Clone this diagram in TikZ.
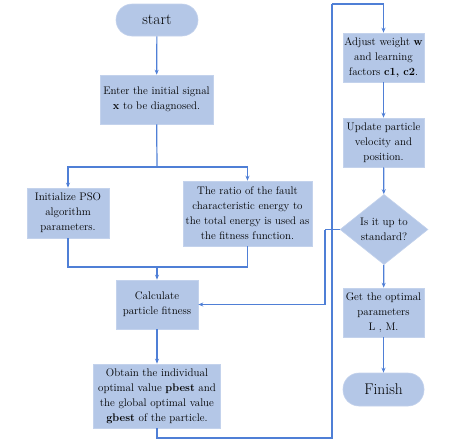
\documentclass[tikz,border=0pt]{standalone}
\usetikzlibrary{shapes.geometric,arrows.meta}
\definecolor{boxfill}{HTML}{B4C7E7}
\definecolor{boxline}{HTML}{C3D2EC}
\definecolor{flow}{HTML}{4F7FD6}
\tikzset{
  box/.style={rectangle, fill=boxfill, draw=boxline, line width=0.6pt, align=center, inner sep=0pt,
    font=\fontsize{11}{15}\selectfont},
  term/.style={rectangle, rounded corners=16pt, fill=boxfill, draw=boxline, line width=0.6pt, inner sep=0pt,
    font=\fontsize{15.5}{19}\selectfont},
  decide/.style={diamond, fill=boxfill, draw=boxline, line width=0.6pt, inner sep=0pt, align=center,
    font=\fontsize{11}{15}\selectfont},
  conn/.style={draw=flow, line width=1.2pt},
  arr/.style={conn, -{Stealth[length=5pt,width=4pt]}}
}
\begin{document}
\begin{tikzpicture}[x=1pt,y=-1pt]
\useasboundingbox (0,0) rectangle (464,445);
% left column
\node[term, minimum width=82pt, minimum height=32pt] (start) at (157,20) {start};
\node[box, minimum width=113pt, minimum height=49pt] (enter) at (156.5,99.5) {Enter the initial signal\\\textbf{x} to be diagnosed.};
\node[box, minimum width=82pt, minimum height=50pt] (init) at (68,213) {Initialize PSO\\algorithm\\parameters.};
\node[box, minimum width=129pt, minimum height=65pt] (ratio) at (247.5,213.5) {The ratio of the fault\\characteristic energy to\\the total energy is used as\\the fitness function.};
\node[box, minimum width=82pt, minimum height=49pt] (calc) at (157,304.5) {Calculate\\particle fitness};
\node[box, minimum width=127pt, minimum height=64pt] (obtain) at (157,396) {Obtain the individual\\optimal value \textbf{pbest} and\\the global optimal value\\\textbf{gbest} of the particle.};
% right column
\node[box, minimum width=81pt, minimum height=49pt] (adjust) at (383.5,57.5) {Adjust weight \textbf{w}\\and learning\\factors \textbf{c1, c2}.};
\node[box, minimum width=81pt, minimum height=49pt] (update) at (383.5,142.5) {Update particle\\velocity and\\position.};
\node[decide, minimum width=88pt, minimum height=53pt] (dec) at (384,229.5) {Is it up to\\standard?};
\node[box, minimum width=81pt, minimum height=49pt] (get) at (383.5,312.5) {Get the optimal\\parameters\\L , M.};
\node[term, minimum width=81pt, minimum height=33pt] (finish) at (383.5,389.5) {Finish};
% junction coordinates
\coordinate (split) at (157,167);
\coordinate (merge) at (157,267);
\coordinate (lpA) at (332,438);
\coordinate (lpB) at (332,4);
\coordinate (fb) at (325,229.5);
% connectors
\draw[arr] (start) -- (enter);
\draw[conn] (enter) -- (split);
\draw[arr] (split) -| (init);
\draw[arr] (split) -| (ratio);
\draw[conn] (init) |- (merge);
\draw[conn] (ratio) |- (merge);
\draw[arr] (merge) -- (calc);
\draw[arr] (calc) -- (obtain);
\draw[conn] (obtain) |- (lpA) -- (lpB);
\draw[arr] (lpB) -| (adjust);
\draw[arr] (adjust) -- (update);
\draw[arr] (update) -- (dec);
\draw[arr] (dec) -- (get);
\draw[arr] (get) -- (finish);
\draw[conn] (dec.west) -- (fb);
\draw[arr] (fb) |- (calc.east);
\end{tikzpicture}
\end{document}
